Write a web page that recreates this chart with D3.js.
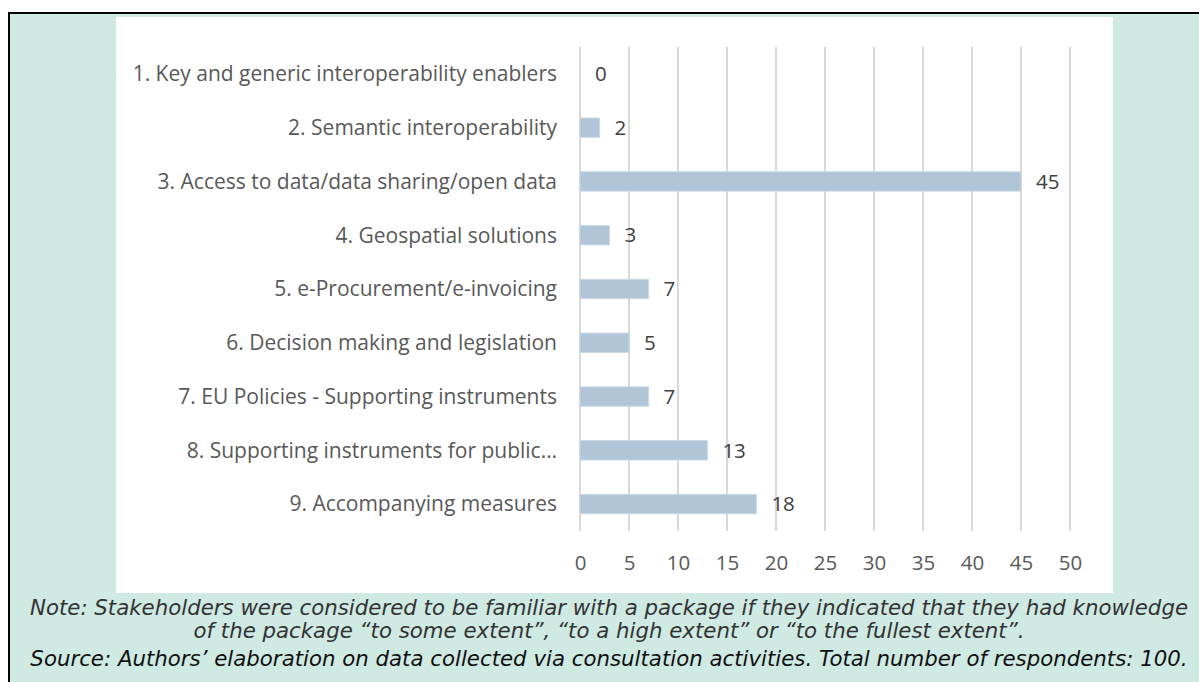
<!DOCTYPE html>
<html>
<head>
<meta charset="utf-8">
<script src="https://cdn.jsdelivr.net/npm/d3@7"></script>
<style>
  body { margin: 0; background: #fff; }
  svg { display: block; }
</style>
</head>
<body>
<div id="chart"></div>
<script>
// data
const categories = [
  "1. Key and generic interoperability enablers",
  "2. Semantic interoperability",
  "3. Access to data/data sharing/open data",
  "4. Geospatial solutions",
  "5. e-Procurement/e-invoicing",
  "6. Decision making and legislation",
  "7. EU Policies - Supporting instruments",
  "8. Supporting instruments for public\u2026",
  "9. Accompanying measures"
];
const values = [0, 2, 45, 3, 7, 5, 7, 13, 18];
const xTicks = [0, 5, 10, 15, 20, 25, 30, 35, 40, 45, 50];
const noteLines = [
  "Note: Stakeholders were considered to be familiar with a package if they indicated that they had knowledge",
  "of the package \u201cto some extent\u201d, \u201cto a high extent\u201d or \u201cto the fullest extent\u201d.",
  "Source: Authors\u2019 elaboration on data collected via consultation activities. Total number of respondents: 100."
];

const W = 1199, H = 682;
const labelFont = "'Open Sans', sans-serif";

const svg = d3.select("#chart").append("svg")
  .attr("width", W)
  .attr("height", H);

// outer box
svg.append("rect")
  .attr("x", 9).attr("y", 13)
  .attr("width", W + 10).attr("height", H + 10)
  .attr("fill", "#cfe9e3")
  .attr("stroke", "#000")
  .attr("stroke-width", 2);

// white chart area
svg.append("rect")
  .attr("x", 116).attr("y", 17)
  .attr("width", 997).attr("height", 576)
  .attr("fill", "#fff");

const plot = {left: 580, right: 1070, top: 47, bottom: 531};

const x = d3.scaleLinear()
  .domain([0, 50])
  .range([plot.left, plot.right]);

const y = d3.scaleBand()
  .domain(categories)
  .range([plot.top, plot.bottom])
  .paddingInner(0.64)
  .paddingOuter(0.32);

// gridlines
svg.append("g")
  .selectAll("line")
  .data(xTicks)
  .join("line")
    .attr("x1", d => x(d))
    .attr("x2", d => x(d))
    .attr("y1", plot.top)
    .attr("y2", plot.bottom)
    .attr("stroke", "#d9d9d9")
    .attr("stroke-width", 2);

// bars
svg.append("g")
  .selectAll("rect")
  .data(values)
  .join("rect")
    .attr("x", x(0))
    .attr("y", (d, i) => y(categories[i]))
    .attr("width", d => x(d) - x(0))
    .attr("height", y.bandwidth())
    .attr("fill", "#b0c6d8")
    .attr("stroke", "#c9d8e4")
    .attr("stroke-width", d => d > 0 ? 1 : 0);

// value labels
svg.append("g")
  .selectAll("text")
  .data(values)
  .join("text")
    .attr("x", d => x(d) + 15)
    .attr("y", (d, i) => y(categories[i]) + y.bandwidth() / 2)
    .attr("dy", "0.35em")
    .attr("font-family", labelFont)
    .attr("font-size", 20.5)
    .attr("fill", "#404040")
    .text(d => d);

// category labels
svg.append("g")
  .selectAll("text")
  .data(categories)
  .join("text")
    .attr("x", plot.left - 23)
    .attr("y", d => y(d) + y.bandwidth() / 2)
    .attr("dy", "0.35em")
    .attr("text-anchor", "end")
    .attr("font-family", labelFont)
    .attr("font-size", 21)
    .attr("fill", "#595959")
    .text(d => d);

// x axis tick labels
const xAxis = d3.axisBottom(x)
  .tickValues(xTicks)
  .tickSize(0)
  .tickPadding(0);

const axisG = svg.append("g")
  .attr("transform", `translate(0, 555)`)
  .call(xAxis);
axisG.select(".domain").remove();
axisG.selectAll("text")
  .attr("font-family", labelFont)
  .attr("font-size", 20.5)
  .attr("fill", "#595959");

// note and source
svg.append("g")
  .selectAll("text")
  .data(noteLines)
  .join("text")
    .attr("x", 609)
    .attr("y", (d, i) => [615, 638, 666][i])
    .attr("text-anchor", "middle")
    .attr("font-family", "'DejaVu Sans', Verdana, sans-serif")
    .attr("font-style", "italic")
    .attr("font-size", 21.3)
    .attr("fill", (d, i) => i < 2 ? "#333" : "#111")
    .text(d => d);
</script>
</body>
</html>
